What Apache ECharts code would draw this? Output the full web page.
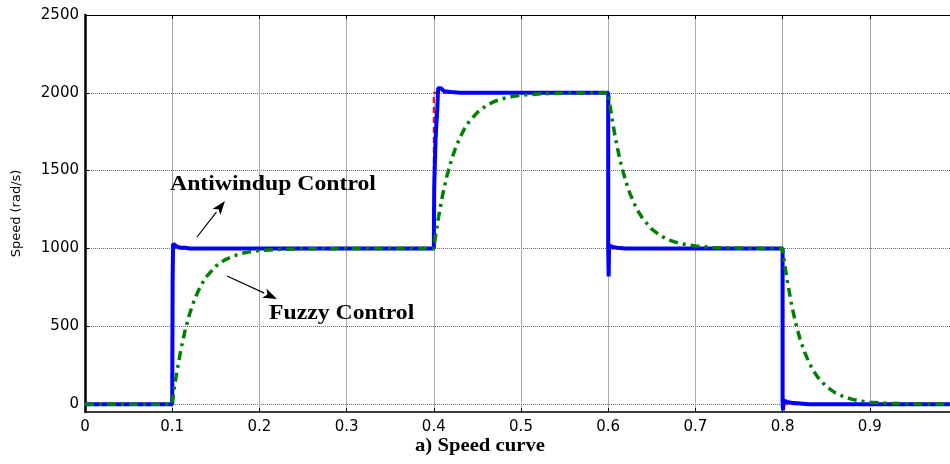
<!DOCTYPE html>
<html><head><meta charset="utf-8">
<script src="https://cdn.jsdelivr.net/npm/echarts@6/dist/echarts.min.js"></script>
<style>html,body{margin:0;padding:0;background:#fff}#c{width:950px;height:464px}</style>
</head><body><div id="c"></div>
<script>
// x tick labels and y tick labels
const xTicks = [0,0.1,0.2,0.3,0.4,0.5,0.6,0.7,0.8,0.9];
const yTicks = [0,500,1000,1500,2000,2500];

// Reference speed (red dashed)
const refT = [0,0.1,0.1,0.4,0.4,0.6,0.6,0.8,0.8,1.0];
const refV = [0,0,1000,1000,2000,2000,1000,1000,0,0];

// Antiwindup control (blue)
const awT = [0,0.1,0.1005,0.101,0.103,0.106,0.11,0.115,0.12,0.4,0.4005,0.401,0.402,0.403,0.404,0.405,0.408,0.412,0.42,0.43,0.6,0.6,0.6005,0.601,0.605,0.61,0.62,0.8,0.8,0.8005,0.801,0.805,0.81,0.82,0.83,1.0];
const awV = [0,0,800,1030,1025,1010,1005,1005,1000,1000,1400,1500,1700,1800,1900,2030,2030,2010,2005,2000,2000,1000,820,1020,1010,1005,1000,1000,0,-40,25,15,10,5,0,0];

// Fuzzy control (green dash-dot)
const fzT = [0,0.1,0.102,0.105,0.11,0.115,0.12,0.125,0.13,0.135,0.14,0.15,0.16,0.17,0.18,0.19,0.2,0.22,0.25,0.3,
  0.4,0.402,0.405,0.41,0.415,0.42,0.425,0.43,0.435,0.44,0.45,0.46,0.47,0.48,0.49,0.5,0.52,0.55,0.6,
  0.602,0.605,0.61,0.615,0.62,0.625,0.63,0.635,0.64,0.65,0.66,0.67,0.68,0.69,0.7,0.72,0.75,0.8,
  0.802,0.805,0.81,0.815,0.82,0.825,0.83,0.835,0.84,0.85,0.86,0.87,0.88,0.89,0.9,0.92,0.95,1.0];
const fzV = [0,0,90,195,353,479,581,663,729,782,824,886,926,952,969,980,987,994,998,1000,
  1000,1080,1188,1341,1465,1565,1647,1713,1767,1811,1875,1918,1946,1964,1976,1984,1993,1998,2000,
  1920,1812,1659,1535,1435,1353,1287,1233,1189,1125,1082,1054,1036,1024,1016,1007,1002,1000,
  910,805,647,521,419,337,271,218,176,114,74,48,31,20,13,6,2,0];

const zip = (a,b) => a.map((v,i)=>[v,b[i]]);

const chart = echarts.init(document.getElementById('c'), null, {renderer:'canvas'});
const gridBox = {left:85, top:15, width:872, outerBoundsMode:'none', containLabel:false};
const tickFont = {fontFamily:'DejaVu Sans', fontSize:15, color:'#000'};

function arrow(x1,y1,x2,y2){
  const ang = Math.atan2(y2-y1,x2-x1), L=14, W=5;
  const bx = x2 - L*Math.cos(ang), by = y2 - L*Math.sin(ang);
  const px = -Math.sin(ang)*W, py = Math.cos(ang)*W;
  return [
    {type:'line', shape:{x1:x1,y1:y1,x2:bx,y2:by}, style:{stroke:'#000', lineWidth:1.2}, z:100},
    {type:'polygon', shape:{points:[[x2,y2],[bx+px,by+py],[bx+L*0.25*Math.cos(ang),by+L*0.25*Math.sin(ang)],[bx-px,by-py]]}, style:{fill:'#000'}, z:100}
  ];
}

chart.setOption({
  animation:false,
  backgroundColor:'#fff',
  grid:[
    Object.assign({bottom:52}, gridBox),
    Object.assign({bottom:60}, gridBox)
  ],
  xAxis:[
    {type:'value', gridIndex:0, min:0, max:1, interval:0.1, position:'bottom',
     axisLine:{lineStyle:{color:'#000', width:1.5}, onZero:false},
     axisTick:{inside:true, length:4, lineStyle:{color:'#000'}},
     axisLabel:Object.assign({margin:8, formatter:v=>{const r=Math.round(v*10)/10; return xTicks.includes(r)? String(r):'';}}, tickFont),
     splitLine:{show:true, lineStyle:{color:'#a8a8a8', width:1}}},
    {type:'value', gridIndex:0, min:0, max:1, interval:0.1, position:'top',
     axisLine:{lineStyle:{color:'#000', width:1}, onZero:false},
     axisTick:{inside:true, length:4, lineStyle:{color:'#000'}},
     axisLabel:{show:false}, splitLine:{show:false}},
    {type:'value', gridIndex:1, min:0, max:1, show:false}
  ],
  yAxis:[
    {type:'value', gridIndex:0, min:-50, max:2500,
     axisLine:{show:true, lineStyle:{color:'#000', width:2.5}, onZero:false},
     axisTick:{show:false}, axisLabel:{show:false}, splitLine:{show:false},
     name:'Speed (rad/s)', nameLocation:'middle', nameGap:62, nameRotate:90,
     nameTextStyle:{fontFamily:'DejaVu Sans', fontSize:13, color:'#000'}},
    {type:'value', gridIndex:1, min:0, max:2500, interval:500,
     axisLine:{show:false},
     axisTick:{inside:true, length:4, lineStyle:{color:'#000'}},
     axisLabel:Object.assign({margin:6, formatter:v=>yTicks.includes(v)?String(v):''}, tickFont),
     splitLine:{show:true, lineStyle:{color:'#6a6a6a', width:1, type:[1,1]}}}
  ],
  series:[
    {type:'line', name:'Reference', xAxisIndex:0, yAxisIndex:0, data:zip(refT,refV), showSymbol:false,
     lineStyle:{color:'#ff0000', width:2, type:[6,4]}, z:3},
    {type:'line', name:'Antiwindup Control', xAxisIndex:0, yAxisIndex:0, data:zip(awT,awV), showSymbol:false,
     lineStyle:{color:'#0000ff', width:4}, z:4},
    {type:'line', name:'Fuzzy Control', xAxisIndex:0, yAxisIndex:0, data:zip(fzT,fzV), showSymbol:false, smooth:false,
     lineStyle:{color:'#008000', width:3.5, type:[9,5,3,5]}, z:5}
  ],
  graphic:[
    {type:'text', x:170, y:174, scaleX:1.13, z:100, style:{text:'Antiwindup Control', font:'bold 21px "Liberation Serif"', fill:'#000'}},
    {type:'text', x:269, y:303, scaleX:1.13, z:100, style:{text:'Fuzzy Control', font:'bold 21px "Liberation Serif"', fill:'#000'}},
    {type:'text', x:415, y:437, scaleX:1.09, z:100, style:{text:'a) Speed curve', font:'bold 19px "Liberation Serif"', fill:'#000'}},
    ...arrow(197,237,225,201),
    ...arrow(227,276,277,299)
  ]
});
</script>
</body></html>
